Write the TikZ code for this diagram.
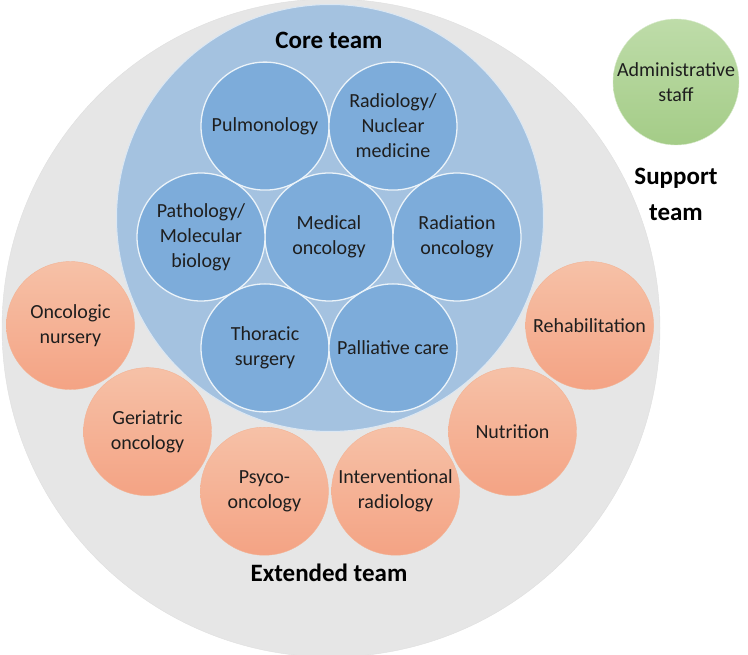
\documentclass[tikz,border=0pt]{standalone}
\usepackage{fontspec}
\setmainfont{Carlito}
\usepackage{tikz}
\usetikzlibrary{shapes}
\usetikzlibrary{positioning}
\definecolor{extgrey}{HTML}{E6E6E6}
\definecolor{coreblue}{HTML}{A4C2E0}
\definecolor{unitblue}{HTML}{7DACDA}
\definecolor{peachtop}{HTML}{F6C1A7}
\definecolor{peachbot}{HTML}{F4A384}
\definecolor{peachline}{HTML}{F3B394}
\definecolor{sagetop}{HTML}{BEDCA9}
\definecolor{sagebot}{HTML}{A4CC87}
\definecolor{inktext}{HTML}{1E1E1E}
\newcommand{\circfont}{\fontsize{20}{25}\selectfont}
\newcommand{\teamfont}{\fontsize{25}{30}\selectfont\bfseries}
\tikzstyle{extended} = [circle, fill=extgrey, draw=gray!25, minimum size=658pt, inner sep=0pt]
\tikzstyle{core} = [circle, fill=coreblue, draw=white!60!coreblue, line width=1pt,
                    minimum size=427pt, inner sep=0pt]
\tikzstyle{unit} = [circle, fill=unitblue, draw=white!85!unitblue, line width=1.3pt,
    minimum size=128pt, inner sep=0pt, align=center, text=inktext, font=\circfont]
\tikzstyle{extra} = [circle, top color=peachtop, bottom color=peachbot, draw=peachline,
    minimum size=128pt, inner sep=0pt, align=center, text=inktext, font=\circfont]
\tikzstyle{staff} = [circle, top color=sagetop, bottom color=sagebot, draw=white!40!sagetop,
    minimum size=126pt, inner sep=0pt, align=center, text=inktext, font=\circfont]
\tikzstyle{team} = [align=center, font=\teamfont, text=black]

\begin{document}
\begin{tikzpicture}[x=1pt, y=1pt, node distance=128pt]
  \useasboundingbox (0,0) rectangle (748,-655);
  % Place the team circles
  \node [extended] (ext) at (331,-328) {};
  \node [core] (core) at (330,-218) {};
  \node [team] (coretitle) at (329,-40) {Core team};
  \node [team] (exttitle) at (329,-573) {Extended team};

  % Core team units
  \node [unit] (medical) at (329,-237) {Medical\\oncology};
  \node [unit, left of=medical] (pathology) {Pathology/\\Molecular\\biology};
  \node [unit, right of=medical] (radiation) {Radiation\\oncology};
  \node [unit, above of=medical, xshift=-64pt, node distance=110.9pt] (pulmo) {Pulmonology};
  \node [unit, above of=medical, xshift=64pt, node distance=110.9pt] (radiology) {Radiology/\\Nuclear\\medicine};
  \node [unit, below of=medical, xshift=-64pt, node distance=110.9pt] (thoracic) {Thoracic\\surgery};
  \node [unit, below of=medical, xshift=64pt, node distance=110.9pt] (palliative) {Palliative care};

  % Extended team around the core
  \node [extra] (nursery) at ([shift={(202.5:281)}]core.center) {Oncologic\\nursery};
  \node [extra] (geriatric) at ([shift={(229.5:281)}]core.center) {Geriatric\\oncology};
  \node [extra] (psyco) at ([shift={(256.5:281)}]core.center) {Psyco-\\oncology};
  \node [extra] (interv) at ([shift={(283.5:281)}]core.center) {Interventional\\radiology};
  \node [extra] (nutrition) at ([shift={(310.5:281)}]core.center) {Nutrition};
  \node [extra] (rehab) at ([shift={(337.5:281)}]core.center) {Rehabilitation};

  % Support team
  \node [staff] (admin) at (676,-82) {Administrative\\staff};
  \node [team, below of=admin, node distance=112pt, text depth=0pt] (support) {Support\\[6pt]team};
\end{tikzpicture}
\end{document}
